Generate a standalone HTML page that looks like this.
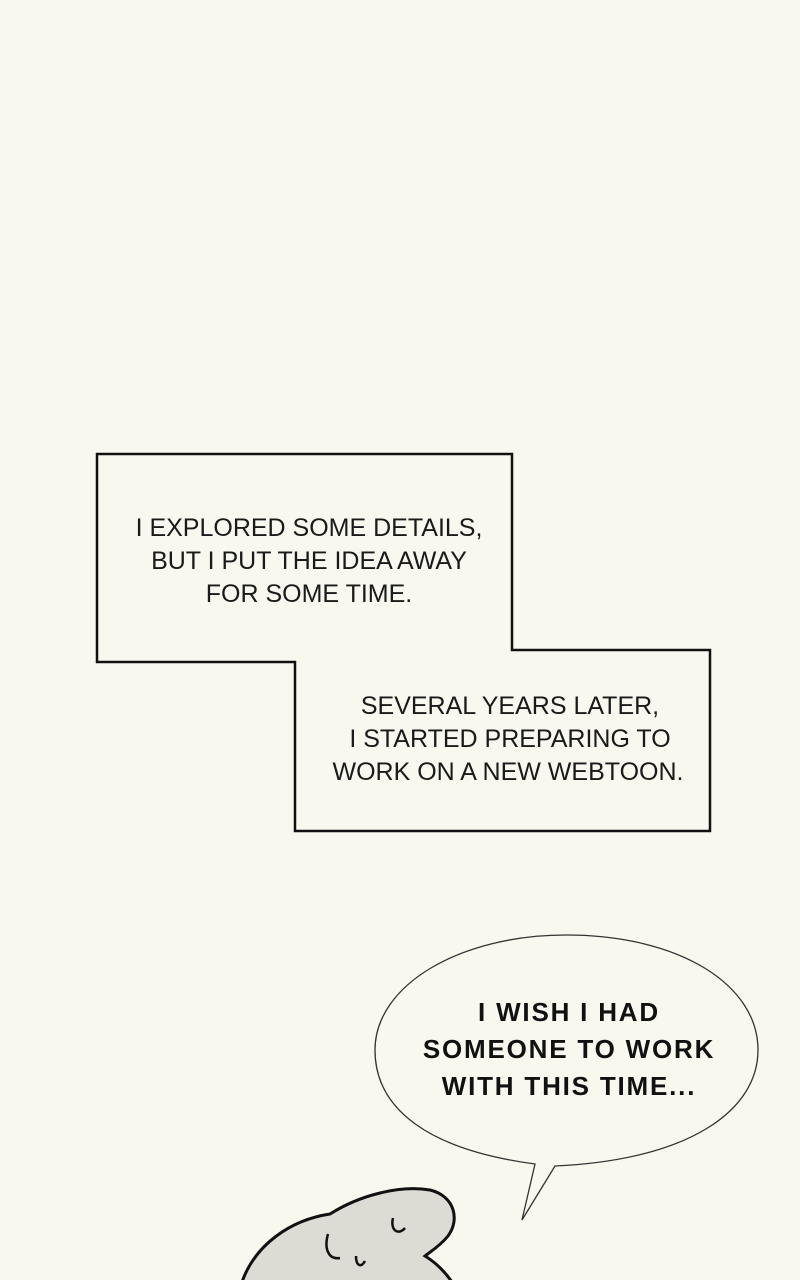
<!DOCTYPE html>
<html><head><style>
html,body{margin:0;padding:0;background:#f8f8ee;}
body{width:800px;height:1280px;position:relative;overflow:hidden;}
svg{position:absolute;left:0;top:0;}
.t{font-family:"Liberation Sans",sans-serif;font-size:25px;fill:#1a1a1a;text-anchor:middle;}
.b{font-family:"Liberation Sans",sans-serif;font-weight:bold;font-size:26px;letter-spacing:1.8px;fill:#111;text-anchor:middle;}
</style></head><body>
<svg width="800" height="1280" viewBox="0 0 800 1280">
<polygon points="97,454 512,454 512,650 710,650 710,831 295,831 295,662 97,662" fill="#f8f8ee" stroke="#111" stroke-width="2.5"/>
<text class="t" x="309" y="536">I EXPLORED SOME DETAILS,</text>
<text class="t" x="309" y="569">BUT I PUT THE IDEA AWAY</text>
<text class="t" x="309" y="602">FOR SOME TIME.</text>
<text class="t" x="510" y="714">SEVERAL YEARS LATER,</text>
<text class="t" x="510" y="747">I STARTED PREPARING TO</text>
<text class="t" x="508" y="780">WORK ON A NEW WEBTOON.</text>
<path d="M535,1164 C430,1150 375,1110 375,1050 C375,985 460,935 566,935 C680,935 758,985 758,1050 C758,1110 690,1160 555,1166 L522,1220 Z" fill="#f8f8ee" stroke="#333" stroke-width="1.3"/>
<text class="b" x="569" y="1021">I WISH I HAD</text>
<text class="b" x="569" y="1058">SOMEONE TO WORK</text>
<text class="b" x="569" y="1095">WITH THIS TIME...</text>
<path d="M242,1282 C255,1245 290,1220 330,1214 C360,1195 400,1185 430,1190 C455,1196 460,1220 448,1236 C440,1246 430,1252 425,1256 C435,1262 445,1272 452,1282 Z" fill="#dcdcd4" stroke="#111" stroke-width="3"/>
<path d="M328,1234 C324,1248 328,1260 340,1258" fill="none" stroke="#111" stroke-width="2.5"/>
<path d="M356,1256 C356,1266 361,1268 365,1261" fill="none" stroke="#111" stroke-width="2.5"/>
<path d="M393,1218 C390,1230 398,1236 405,1228" fill="none" stroke="#111" stroke-width="2.5"/>
</svg>
</body></html>
